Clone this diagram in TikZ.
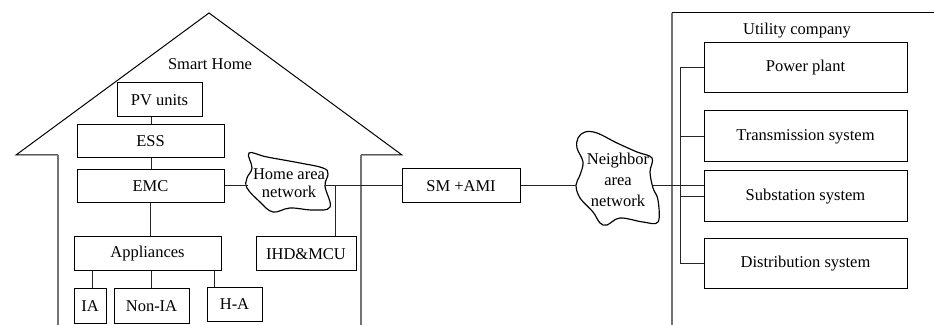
\documentclass[tikz,border=0pt]{standalone}
\usepackage{fontspec}
\setmainfont{Liberation Serif}
\newfontfamily\tnrfont{Liberation Serif}
\newcommand\pxu[1]{#1*0.6pt}
\begin{document}
\begin{tikzpicture}[x=0.6pt,y=-0.6pt,
  every node/.style={font=\tnrfont\fontsize{9.9}{11}\selectfont, inner sep=0pt},
  box/.style={draw=black, line width=0.6pt, fill=white, align=center},
  wire/.style={draw=black!85, line width=0.6pt},
  wall/.style={draw=black!55, line width=1pt},
  roof/.style={draw=black, line width=0.6pt},
  blob/.style={draw=black, line width=0.7pt}]
\useasboundingbox (0,0) rectangle (934,325);

% house
\coordinate (apex) at (209,13);
\coordinate (eaveL) at (16,155);
\coordinate (eaveR) at (402,155);
\coordinate (wallLt) at (58,155);
\coordinate (wallRt) at (361,155);
\coordinate (wallLb) at (58,326);
\coordinate (wallRb) at (361,326);
\draw[roof] (wallLt) -- (eaveL) -- (apex) -- (eaveR) -- (wallRt);
\draw[wall] (wallLt) -- (wallLb);
\draw[wall] (wallRt) -- (wallRb);
\node (smarthome) at (210,64) {Smart Home};

% home boxes
\node[box, minimum width=\pxu{85}, minimum height=\pxu{34}] (pv) at (159.5,100) {PV units};
\node[box, minimum width=\pxu{147}, minimum height=\pxu{33}] (ess) at (150.5,141.5) {ESS};
\node[box, minimum width=\pxu{147}, minimum height=\pxu{33}] (emc) at (150.5,186.5) {EMC};
\node[box, minimum width=\pxu{147}, minimum height=\pxu{34}] (app) at (147.5,254) {Appliances};
\node[box, minimum width=\pxu{32}, minimum height=\pxu{34}] (ia) at (90,306) {IA};
\node[box, minimum width=\pxu{75}, minimum height=\pxu{34}] (nonia) at (151.5,306) {Non-IA};
\node[box, minimum width=\pxu{55}, minimum height=\pxu{33}] (ha) at (234.5,304.5) {H-A};
\node[box, minimum width=\pxu{100}, minimum height=\pxu{34}] (ihd) at (306,254) {IHD\&MCU};

\draw[wire] (pv.south -| 151,0) -- (ess.north -| 151,0);
\draw[wire] (ess.south -| 151,0) -- (emc.north -| 151,0);
\draw[wire] (emc.south -| 150,0) -- (app.north -| 150,0);
\draw[wire] (app.south -| 92,0) -- (ia.north -| 92,0);
\draw[wire] (app.south -| nonia) -- (nonia.north);
\draw[wire] (app.south -| 214,0) -- (ha.north -| 214,0);

% home area network cloud
\draw[blob] plot[smooth cycle, tension=0.65] coordinates {(249,153) (267,157) (300,163) (323,168) (328,174) (325,186) (330,207) (313,210) (290,208) (273,212) (260,202) (247,188) (247,178) (252,168)};
\node[align=center, font=\tnrfont\fontsize{9.9}{10.6}\selectfont] (han) at (289,183) {Home area\\network};
\coordinate (hanL) at (247.5,186);
\coordinate (hanR) at (325,186);
\coordinate (ihdtap) at (335,186);

% SM + AMI
\node[box, minimum width=\pxu{118}, minimum height=\pxu{34}] (sm) at (461,186) {SM +AMI};

% neighbor area network cloud
\draw[blob] plot[smooth cycle, tension=0.6] coordinates {(578,138) (585,132) (597,133) (617,143) (637,152) (652,158) (650,172) (653,188) (658,200) (658,222) (643,222) (620,218) (607,225) (600,223) (593,212) (580,198) (576,185) (580,175) (583,162) (577,148)};
\node[align=center, font=\tnrfont\fontsize{9.9}{12.6}\selectfont] (nan) at (618,179.5) {Neighbor\\area\\network};
\coordinate (nanL) at (576,186);
\coordinate (nanR) at (653,186);

\draw[wire] (emc.east |- hanL) -- (hanL);
\draw[wire] (hanR) -- (sm.west);
\draw[wire] (ihdtap) -- (ihd.north -| ihdtap);
\draw[wire] (sm.east) -- (nanL);

% utility company
\coordinate (utl) at (672,13);
\coordinate (utr) at (936,13);
\coordinate (ubl) at (672,326);
\draw[roof] (utl) -- (utr);
\draw[wall] (utl) -- (ubl);
\node (utility) at (797,31) {Utility company};

\node[box, minimum width=\pxu{203}, minimum height=\pxu{50}] (pp) at (805.5,68) {Power plant};
\node[box, minimum width=\pxu{203}, minimum height=\pxu{51}] (tr) at (805.5,136.5) {Transmission system};
\node[box, minimum width=\pxu{203}, minimum height=\pxu{51}] (ss) at (805.5,196.5) {Substation system};
\node[box, minimum width=\pxu{203}, minimum height=\pxu{50}] (ds) at (805.5,264) {Distribution system};

\coordinate (bustop) at (680,68);
\coordinate (busbot) at (680,264);
\draw[wire] (pp.west) -- (bustop) -- (busbot) -- (ds.west);
\draw[wire] (tr.west) -- (tr.west -| bustop);
\draw[wire] (ss.west) -- (ss.west -| bustop);
\draw[wire] (nanR) -- (ss.west |- nanR);
\end{tikzpicture}
\end{document}
